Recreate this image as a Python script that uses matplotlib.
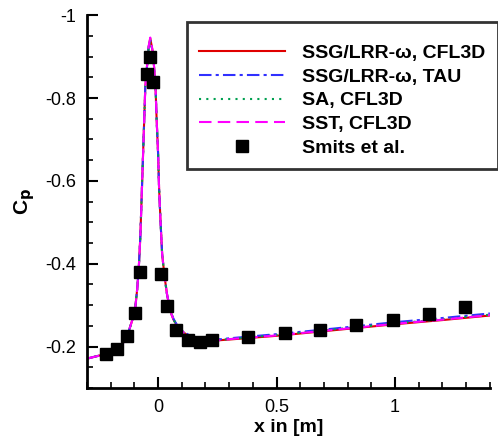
import matplotlib
matplotlib.use("Agg")
import matplotlib.pyplot as plt
from matplotlib.ticker import MultipleLocator, FuncFormatter

plt.rcParams.update({
    "font.family": ["Liberation Sans", "DejaVu Sans"],
    "font.size": 12,
})

# computed curves (all four models nearly coincide)
x_cfd = [-0.3, -0.25, -0.2, -0.173, -0.138, -0.125, -0.110, -0.097, -0.088, -0.082,
         -0.075, -0.068, -0.061, -0.054, -0.040, -0.033, -0.021, -0.011, -0.006, 0.0,
         0.004, 0.010, 0.017, 0.027, 0.038, 0.052, 0.065, 0.080, 0.094, 0.115,
         0.136, 0.179, 0.25, 0.3, 0.5, 0.75, 1.0, 1.2, 1.4]
cp_ssg_cfl3d = [-0.171, -0.178, -0.187, -0.193, -0.215, -0.235, -0.262, -0.29, -0.34, -0.384,
                -0.465, -0.585, -0.706, -0.827, -0.923, -0.944, -0.907, -0.827, -0.746, -0.666,
                -0.585, -0.505, -0.424, -0.37, -0.325, -0.285, -0.265, -0.25, -0.24, -0.231,
                -0.224, -0.216, -0.215, -0.217, -0.226, -0.240, -0.254, -0.264, -0.275]
cp_ssg_tau = [-0.171, -0.178, -0.187, -0.193, -0.215, -0.235, -0.262, -0.29, -0.34, -0.384,
              -0.465, -0.585, -0.706, -0.827, -0.923, -0.940, -0.907, -0.827, -0.746, -0.666,
              -0.585, -0.505, -0.424, -0.37, -0.325, -0.287, -0.267, -0.252, -0.242, -0.233,
              -0.226, -0.218, -0.217, -0.220, -0.230, -0.244, -0.259, -0.269, -0.280]
cp_sa_cfl3d = [-0.171, -0.178, -0.187, -0.193, -0.215, -0.235, -0.262, -0.29, -0.34, -0.384,
               -0.465, -0.585, -0.706, -0.827, -0.920, -0.938, -0.905, -0.827, -0.746, -0.666,
               -0.585, -0.505, -0.424, -0.37, -0.325, -0.285, -0.265, -0.25, -0.24, -0.231,
               -0.224, -0.216, -0.216, -0.218, -0.228, -0.242, -0.256, -0.266, -0.277]
cp_sst_cfl3d = [-0.171, -0.178, -0.187, -0.193, -0.215, -0.235, -0.262, -0.29, -0.34, -0.384,
                -0.465, -0.585, -0.706, -0.827, -0.925, -0.946, -0.907, -0.827, -0.746, -0.666,
                -0.585, -0.505, -0.424, -0.37, -0.325, -0.285, -0.265, -0.25, -0.24, -0.231,
                -0.224, -0.216, -0.215, -0.218, -0.227, -0.241, -0.255, -0.265, -0.276]

# experiment
x_exp = [-0.22, -0.173, -0.131, -0.097, -0.075, -0.046, -0.033, -0.020, 0.014, 0.038,
         0.076, 0.128, 0.176, 0.228, 0.381, 0.534, 0.683, 0.835, 0.993, 1.145, 1.297]
cp_exp = [-0.183, -0.195, -0.226, -0.281, -0.380, -0.859, -0.898, -0.839, -0.376, -0.298,
          -0.239, -0.215, -0.211, -0.215, -0.223, -0.233, -0.241, -0.252, -0.263, -0.278, -0.296]

fig = plt.figure(figsize=(4.98, 4.46), dpi=100)
ax = fig.add_axes([0.1747, 0.130, 0.809, 0.836])

ax.plot(x_cfd, cp_ssg_cfl3d, color="#e00000", lw=1.5, ls="-", label="SSG/LRR-\u03c9, CFL3D")
ax.plot(x_cfd, cp_ssg_tau, color="#3030ff", lw=1.5, ls=(0, (6, 2, 1.5, 2)), label="SSG/LRR-\u03c9, TAU")
ax.plot(x_cfd, cp_sa_cfl3d, color="#00a050", lw=1.5, ls=(0, (1, 2.5)), label="SA, CFL3D")
ax.plot(x_cfd, cp_sst_cfl3d, color="#ff00ff", lw=1.5, ls=(0, (6, 3)), label="SST, CFL3D")
ax.plot(x_exp, cp_exp, ls="none", marker="s", ms=8, color="black", label="Smits et al.")

ax.set_xlim(-0.3, 1.4)
ax.set_ylim(-0.1, -1.0)
ax.xaxis.set_major_locator(MultipleLocator(0.5))
ax.xaxis.set_minor_locator(MultipleLocator(0.1))
ax.yaxis.set_major_locator(MultipleLocator(0.2))
ax.yaxis.set_minor_locator(MultipleLocator(0.05))
ax.xaxis.set_major_formatter(FuncFormatter(lambda v, p: f"{v:g}"))
ax.yaxis.set_major_formatter(FuncFormatter(lambda v, p: f"{v:g}"))

for s in ["top", "right"]:
    ax.spines[s].set_visible(False)
for s in ["left", "bottom"]:
    ax.spines[s].set_linewidth(2)
ax.tick_params(which="major", direction="in", length=8, width=1.5, labelsize=13, pad=8)
ax.tick_params(which="minor", direction="in", length=4, width=1.2)

ax.set_xlabel("x in [m]", fontsize=14, fontweight="bold", labelpad=2)
ax.set_ylabel("C$_\\mathbf{p}$", fontsize=15, fontweight="bold", labelpad=6)

leg = ax.legend(loc="upper right", bbox_to_anchor=(0.999, 0.951), bbox_transform=fig.transFigure,
                prop={"weight": "bold", "size": 14}, frameon=True, fancybox=False,
                title=" ", title_fontsize=3,
                handlelength=4.4, handletextpad=0.9, borderpad=0.62, labelspacing=0.32,
                borderaxespad=0)
leg.get_frame().set_edgecolor("black")
leg.get_frame().set_linewidth(2)

fig.savefig("out.png", dpi=100)
